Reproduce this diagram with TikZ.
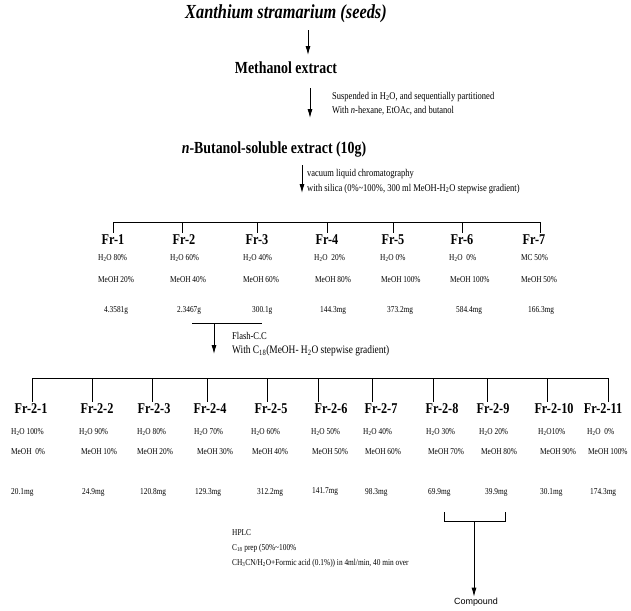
\documentclass[tikz,border=0pt]{standalone}
\usepackage{fontspec}
\setmainfont{Liberation Serif}
\newfontfamily\narrow[FakeStretch=0.82]{Liberation Serif}
\newfontfamily\cmpfont{Liberation Sans}
\usetikzlibrary{arrows.meta}

\tikzset{
  head/.style={font=\narrow\fontsize{20}{22}\selectfont\bfseries\itshape, inner sep=0pt},
  extr/.style={font=\narrow\fontsize{17}{19}\selectfont\bfseries, inner sep=0pt},
  note/.style={font=\narrow\fontsize{10.4}{12}\selectfont, anchor=west, inner sep=0pt},
  frlab/.style={font=\narrow\fontsize{15}{17}\selectfont\bfseries, inner sep=2pt},
  cell/.style={font=\narrow\fontsize{9}{10}\selectfont, anchor=west, inner sep=0pt},
  arr/.style={line width=0.8pt, -{Latex[length=9pt,width=5pt]}},
  brk/.style={line width=0.8pt},
}

\begin{document}
\begin{tikzpicture}
  \useasboundingbox (0bp,0bp) rectangle (631bp,-611bp);

  % extraction steps
  \node (seeds) at (286bp,-14bp)  [head] {Xanthium stramarium (seeds)};
  \node (meth)  at (286bp,-68bp)  [extr] {Methanol extract};
  \node (buoh)  at (274bp,-149bp) [extr] {\textit{n}-Butanol-soluble extract (10g)};

  \coordinate (a1s) at (308bp,-30bp);  \coordinate (a1e) at (308bp,-55bp);
  \coordinate (a2s) at (310bp,-88bp);  \coordinate (a2e) at (310bp,-118bp);
  \coordinate (a3s) at (302bp,-165bp); \coordinate (a3e) at (302bp,-193bp);
  \draw (a1s) -- (a1e) [arr];
  \draw (a2s) -- (a2e) [arr];
  \draw (a3s) -- (a3e) [arr];

  \node (part1) at (332bp,-97bp)  [note] {Suspended in H\textsubscript{2}O, and sequentially partitioned};
  \node (part2) at (332bp,-111bp) [note] {With \textit{n}-hexane, EtOAc, and butanol};
  \node (vlc1)  at (307bp,-174bp) [note] {vacuum liquid chromatography};
  \node (vlc2)  at (307bp,-189bp) [note] {with silica (0\%\textasciitilde100\%, 300 ml MeOH-H\textsubscript{2}O stepwise gradient)};

  % first fractionation
  \node (fr1) at (113bp,-240bp) [frlab] {Fr-1};
  \node (fr2) at (184bp,-240bp) [frlab] {Fr-2};
  \node (fr3) at (257bp,-240bp) [frlab] {Fr-3};
  \node (fr4) at (327bp,-240bp) [frlab] {Fr-4};
  \node (fr5) at (393bp,-240bp) [frlab] {Fr-5};
  \node (fr6) at (462bp,-240bp) [frlab] {Fr-6};
  \node (fr7) at (534bp,-240bp) [frlab] {Fr-7};

  \coordinate (b1t1) at (113bp,-222bp);
  \coordinate (b1t2) at (182bp,-222bp);
  \coordinate (b1t3) at (257bp,-222bp);
  \coordinate (b1t4) at (327bp,-222bp);
  \coordinate (b1t5) at (393bp,-222bp);
  \coordinate (b1t6) at (462bp,-222bp);
  \coordinate (b1t7) at (540bp,-222bp);
  \draw (b1t1) -- (b1t7) [brk];
  \draw (b1t1) -- (b1t1 |- fr1.north) [brk];
  \draw (b1t2) -- (b1t2 |- fr2.north) [brk];
  \draw (b1t3) -- (b1t3 |- fr3.north) [brk];
  \draw (b1t4) -- (b1t4 |- fr4.north) [brk];
  \draw (b1t5) -- (b1t5 |- fr5.north) [brk];
  \draw (b1t6) -- (b1t6 |- fr6.north) [brk];
  \draw (b1t7) -- (b1t7 |- fr7.north) [brk];

  \node (fr1w) at (98bp,-258bp)  [cell] {H\textsubscript{2}O 80\%};
  \node (fr2w) at (170bp,-258bp) [cell] {H\textsubscript{2}O 60\%};
  \node (fr3w) at (243bp,-258bp) [cell] {H\textsubscript{2}O 40\%};
  \node (fr4w) at (314bp,-258bp) [cell] {H\textsubscript{2}O\ \ 20\%};
  \node (fr5w) at (380bp,-258bp) [cell] {H\textsubscript{2}O 0\%};
  \node (fr6w) at (449bp,-258bp) [cell] {H\textsubscript{2}O\ \ 0\%};
  \node (fr7w) at (521bp,-258bp) [cell] {MC 50\%};

  \node (fr1m) at (98bp,-280bp)  [cell] {MeOH 20\%};
  \node (fr2m) at (170bp,-280bp) [cell] {MeOH 40\%};
  \node (fr3m) at (243bp,-280bp) [cell] {MeOH 60\%};
  \node (fr4m) at (315bp,-280bp) [cell] {MeOH 80\%};
  \node (fr5m) at (381bp,-280bp) [cell] {MeOH 100\%};
  \node (fr6m) at (450bp,-280bp) [cell] {MeOH 100\%};
  \node (fr7m) at (521bp,-280bp) [cell] {MeOH 50\%};

  \node (fr1g) at (104bp,-310bp) [cell] {4.3581g};
  \node (fr2g) at (177bp,-310bp) [cell] {2.3467g};
  \node (fr3g) at (252bp,-310bp) [cell] {300.1g};
  \node (fr4g) at (320bp,-310bp) [cell] {144.3mg};
  \node (fr5g) at (387bp,-310bp) [cell] {373.2mg};
  \node (fr6g) at (456bp,-310bp) [cell] {584.4mg};
  \node (fr7g) at (528bp,-310bp) [cell] {166.3mg};

  % flash column on Fr-2
  \coordinate (fl1) at (192bp,-323bp); \coordinate (fl2) at (262bp,-323bp);
  \draw (fl1) -- (fl2) [brk];
  \coordinate (a4s) at (214bp,-323bp); \coordinate (a4e) at (214bp,-354bp);
  \draw (a4s) -- (a4e) [arr];
  \node (flash1) at (232bp,-336bp) [note] {Flash-C.C};
  \node (flash2) at (232bp,-351bp) [note, font=\narrow\fontsize{11.5}{13}\selectfont] {With C\textsubscript{18}(MeOH- H\textsubscript{2}O stepwise gradient)};

  % second fractionation
  \node (s1)  at (31bp,-409bp)  [frlab] {Fr-2-1};
  \node (s2)  at (97bp,-409bp)  [frlab] {Fr-2-2};
  \node (s3)  at (154bp,-409bp) [frlab] {Fr-2-3};
  \node (s4)  at (210bp,-409bp) [frlab] {Fr-2-4};
  \node (s5)  at (271bp,-409bp) [frlab] {Fr-2-5};
  \node (s6)  at (331bp,-409bp) [frlab] {Fr-2-6};
  \node (s7)  at (381bp,-409bp) [frlab] {Fr-2-7};
  \node (s8)  at (442bp,-409bp) [frlab] {Fr-2-8};
  \node (s9)  at (493bp,-409bp) [frlab] {Fr-2-9};
  \node (s10) at (554bp,-409bp) [frlab] {Fr-2-10};
  \node (s11) at (603bp,-409bp) [frlab] {Fr-2-11};

  \coordinate (b2t1)  at (32bp,-378bp);
  \coordinate (b2t2)  at (92bp,-378bp);
  \coordinate (b2t3)  at (152bp,-378bp);
  \coordinate (b2t4)  at (207bp,-378bp);
  \coordinate (b2t5)  at (267bp,-378bp);
  \coordinate (b2t6)  at (318bp,-378bp);
  \coordinate (b2t7)  at (372bp,-378bp);
  \coordinate (b2t8)  at (433bp,-378bp);
  \coordinate (b2t9)  at (487bp,-378bp);
  \coordinate (b2t10) at (547bp,-378bp);
  \coordinate (b2t11) at (608bp,-378bp);
  \draw (b2t1) -- (b2t11) [brk];
  \draw (b2t1)  -- (b2t1 |- s1.north)   [brk];
  \draw (b2t2)  -- (b2t2 |- s2.north)   [brk];
  \draw (b2t3)  -- (b2t3 |- s3.north)   [brk];
  \draw (b2t4)  -- (b2t4 |- s4.north)   [brk];
  \draw (b2t5)  -- (b2t5 |- s5.north)   [brk];
  \draw (b2t6)  -- (b2t6 |- s6.north)   [brk];
  \draw (b2t7)  -- (b2t7 |- s7.north)   [brk];
  \draw (b2t8)  -- (b2t8 |- s8.north)   [brk];
  \draw (b2t9)  -- (b2t9 |- s9.north)   [brk];
  \draw (b2t10) -- (b2t10 |- s10.north) [brk];
  \draw (b2t11) -- (b2t11 |- s11.north) [brk];

  \node (s1w)  at (11bp,-432bp)  [cell] {H\textsubscript{2}O 100\%};
  \node (s2w)  at (79bp,-432bp)  [cell] {H\textsubscript{2}O 90\%};
  \node (s3w)  at (137bp,-432bp) [cell] {H\textsubscript{2}O 80\%};
  \node (s4w)  at (194bp,-432bp) [cell] {H\textsubscript{2}O 70\%};
  \node (s5w)  at (251bp,-432bp) [cell] {H\textsubscript{2}O 60\%};
  \node (s6w)  at (311bp,-432bp) [cell] {H\textsubscript{2}O 50\%};
  \node (s7w)  at (363bp,-432bp) [cell] {H\textsubscript{2}O 40\%};
  \node (s8w)  at (426bp,-432bp) [cell] {H\textsubscript{2}O 30\%};
  \node (s9w)  at (479bp,-432bp) [cell] {H\textsubscript{2}O 20\%};
  \node (s10w) at (538bp,-432bp) [cell] {H\textsubscript{2}O10\%};
  \node (s11w) at (587bp,-432bp) [cell] {H\textsubscript{2}O\ \ 0\%};

  \node (s1m)  at (11bp,-452bp)  [cell] {MeOH\ \ 0\%};
  \node (s2m)  at (81bp,-452bp)  [cell] {MeOH 10\%};
  \node (s3m)  at (137bp,-452bp) [cell] {MeOH 20\%};
  \node (s4m)  at (197bp,-452bp) [cell] {MeOH 30\%};
  \node (s5m)  at (252bp,-452bp) [cell] {MeOH 40\%};
  \node (s6m)  at (312bp,-452bp) [cell] {MeOH 50\%};
  \node (s7m)  at (365bp,-452bp) [cell] {MeOH 60\%};
  \node (s8m)  at (428bp,-452bp) [cell] {MeOH 70\%};
  \node (s9m)  at (481bp,-452bp) [cell] {MeOH 80\%};
  \node (s10m) at (540bp,-452bp) [cell] {MeOH 90\%};
  \node (s11m) at (588bp,-452bp) [cell] {MeOH 100\%};

  \node (s1g)  at (11bp,-492bp)  [cell] {20.1mg};
  \node (s2g)  at (82bp,-492bp)  [cell] {24.9mg};
  \node (s3g)  at (140bp,-492bp) [cell] {120.8mg};
  \node (s4g)  at (195bp,-492bp) [cell] {129.3mg};
  \node (s5g)  at (257bp,-492bp) [cell] {312.2mg};
  \node (s6g)  at (312bp,-492bp) [cell] {141.7mg};
  \node (s7g)  at (365bp,-492bp) [cell] {98.3mg};
  \node (s8g)  at (428bp,-492bp) [cell] {69.9mg};
  \node (s9g)  at (485bp,-492bp) [cell] {39.9mg};
  \node (s10g) at (540bp,-492bp) [cell] {30.1mg};
  \node (s11g) at (590bp,-492bp) [cell] {174.3mg};

  % HPLC on Fr-2-8 and Fr-2-9
  \coordinate (h1) at (444bp,-512bp); \coordinate (h1b) at (444bp,-521bp);
  \coordinate (h2) at (505bp,-512bp); \coordinate (h2b) at (505bp,-521bp);
  \draw (h1) -- (h1b) -- (h2b) -- (h2) [brk];
  \coordinate (a5s) at (474bp,-521bp);
  \node (cmpd) at (476bp,-602bp) [font=\cmpfont\fontsize{9}{10}\selectfont, inner sep=1pt] {Compound};
  \draw (a5s) -- (a5s |- cmpd.north) [arr];

  \node (hplc1) at (232bp,-533bp) [note, font=\narrow\fontsize{9}{10}\selectfont] {HPLC};
  \node (hplc2) at (232bp,-548bp) [note, font=\narrow\fontsize{9}{10}\selectfont] {C\textsubscript{18} prep (50\%\textasciitilde100\%};
  \node (hplc3) at (232bp,-563bp) [note, font=\narrow\fontsize{9}{10}\selectfont] {CH\textsubscript{3}CN/H\textsubscript{2}O+Formic acid (0.1\%)) in 4ml/min, 40 min over};
\end{tikzpicture}
\end{document}
